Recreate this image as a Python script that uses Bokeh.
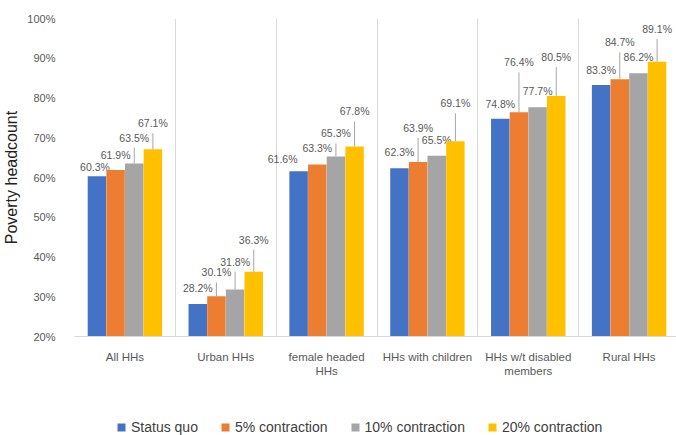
import numpy as np
from bokeh.plotting import figure
from bokeh.layouts import column
from bokeh.models import (Range1d, FixedTicker, ColumnDataSource, Legend, LegendItem,
                          PrintfTickFormatter)
from bokeh.embed import file_html
from bokeh.resources import INLINE
from bokeh.core.properties import value

# ---------------- data ----------------
categories = ["All HHs", "Urban HHs", "female headed\nHHs", "HHs with children",
              "HHs w/t disabled\nmembers", "Rural HHs"]
series_names = ["Status quo", "5% contraction", "10% contraction", "20% contraction"]
status_quo = [60.3, 28.2, 61.6, 62.3, 74.8, 83.3]
contraction_5 = [61.9, 30.1, 63.3, 63.9, 76.4, 84.7]
contraction_10 = [63.5, 31.8, 65.3, 65.5, 77.7, 86.2]
contraction_20 = [67.1, 36.3, 67.8, 69.1, 80.5, 89.1]
y_ticks = [20, 30, 40, 50, 60, 70, 80, 90, 100]

# ---------------- styling / label layout ----------------
colors = ["#4472C4", "#ED7D31", "#A5A5A5", "#FFC000"]
# data labels were dragged in the original: rise above bar top (px), x shift (px), leader line
label_rise = [[9, 16, 12, 16, 15, 15],
              [15, 24, 16, 34, 50, 37],
              [26, 28, 23, 16, 16, 16],
              [26, 32, 35, 38, 39, 33]]
label_dx = [[-2, 0, -16, 0, 0, 0],
            [0, 0, 0, 0, 0, 0],
            [0, 0, 0, 0, 0, 0],
            [0, 0, 0, 0, 0, 0]]
has_leader = [[0, 0, 0, 0, 0, 0],
              [0, 1, 0, 1, 1, 1],
              [1, 1, 1, 0, 0, 0],
              [1, 1, 1, 1, 1, 1]]

series_vals = [status_quo, contraction_5, contraction_10, contraction_20]
n = len(categories)
bar_w = 0.183
offsets = [(j - 1.5) * 0.185 for j in range(4)]

FONT = "Liberation Sans"
GRAY_TXT = "#595959"

p = figure(width=676, height=400, output_backend="svg", toolbar_location=None,
           x_range=Range1d(0, 5.97), y_range=Range1d(20, 100),
           min_border_left=72, min_border_right=0, min_border_top=18, min_border_bottom=64)
p.outline_line_color = None
p.background_fill_color = "white"
p.border_fill_color = "white"

# grid: vertical category separators only
p.ygrid.grid_line_color = None
p.xgrid.ticker = FixedTicker(ticks=list(range(n + 1)))
p.xgrid.grid_line_color = "#D9D9D9"
p.xgrid.grid_line_width = 1

# x axis
centers = [i + 0.5 for i in range(n)]
p.xaxis.ticker = FixedTicker(ticks=centers)
p.xaxis.major_label_overrides = {c: lab for c, lab in zip(centers, categories)}
p.xaxis.axis_line_color = "#D9D9D9"
p.xaxis.major_tick_line_color = None
p.xaxis.minor_tick_line_color = None
p.xaxis.major_label_text_font = FONT
p.xaxis.major_label_text_font_size = "11.5px"
p.xaxis.major_label_text_color = GRAY_TXT
p.xaxis.major_label_standoff = 8

# y axis
p.yaxis.ticker = FixedTicker(ticks=y_ticks)
p.yaxis.formatter = PrintfTickFormatter(format="%d%%")
p.yaxis.axis_line_color = None
p.yaxis.major_tick_line_color = None
p.yaxis.minor_tick_line_color = None
p.yaxis.major_label_text_font = FONT
p.yaxis.major_label_text_font_size = "11px"
p.yaxis.major_label_text_color = GRAY_TXT
p.yaxis.major_label_standoff = 13
p.yaxis.axis_label = "Poverty headcount"
p.yaxis.axis_label_text_font = FONT
p.yaxis.axis_label_text_font_size = "16px"
p.yaxis.axis_label_text_font_style = "normal"
p.yaxis.axis_label_text_color = "#222222"
p.yaxis.axis_label_standoff = 4

# ---------------- legend strip (separate figure below the chart) ----------------
# its ranges lie far away from the data, so only the legend keys are visible
pl = figure(width=676, height=35, output_backend="svg", toolbar_location=None,
            x_range=Range1d(1000, 1001), y_range=Range1d(1000, 1001),
            min_border_left=0, min_border_right=0, min_border_top=0, min_border_bottom=0)
pl.axis.visible = False
pl.grid.visible = False
pl.outline_line_color = None
items = []

for j, (name, vals) in enumerate(zip(series_names, series_vals)):
    xs = [c + offsets[j] for c in centers]
    src = ColumnDataSource(dict(
        x=xs, top=vals,
        label=[f"{v:.1f}%" for v in vals],
        dx=label_dx[j],
        dy=[-r for r in label_rise[j]],
    ))
    p.vbar(x="x", top="top", bottom=20, width=bar_w, source=src,
           fill_color=colors[j], line_color=None)
    # leader lines
    lx = [x for x, h in zip(xs, has_leader[j]) if h]
    ly = [v for v, h in zip(vals, has_leader[j]) if h]
    ll = [rr - 10 for rr, h in zip(label_rise[j], has_leader[j]) if h]
    if lx:
        p.ray(x=lx, y=ly, length=ll, angle=np.pi / 2, length_units="screen",
              line_color="#A6A6A6", line_width=1)
    p.text(x="x", y="top", text="label", x_offset="dx", y_offset="dy", source=src,
           text_align="center", text_baseline="middle",
           text_font=value(FONT), text_font_size="10.5px", text_color=GRAY_TXT)
    # legend proxy of the same series
    r = pl.vbar(x="x", top="top", bottom=20, width=bar_w, source=src,
                fill_color=colors[j], line_color=None)
    items.append(LegendItem(label=name, renderers=[r]))

legend = Legend(items=items, orientation="horizontal", location=(42, 0),
                glyph_width=10, glyph_height=10, label_standoff=5, spacing=22,
                padding=0, margin=0, border_line_color=None, background_fill_alpha=0,
                label_text_font=FONT, label_text_font_size="14px",
                label_text_color="#404040", label_height=16)
pl.add_layout(legend)

layout = column(p, pl, spacing=0)
open("out.html", "w").write(file_html(layout, INLINE))
